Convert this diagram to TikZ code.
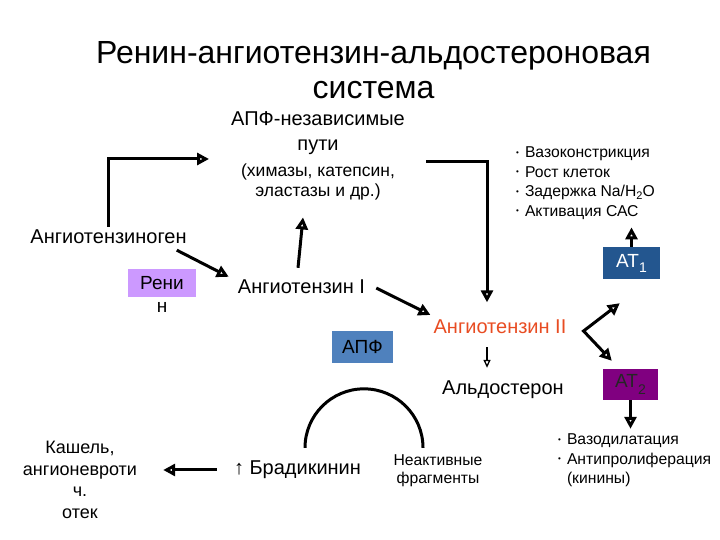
\documentclass[tikz,border=0pt]{standalone}
\usepackage{fontspec}
\setmainfont{Liberation Sans}
\usetikzlibrary{arrows.meta,positioning}
\usepackage{xcolor}
\definecolor{reninlilac}{HTML}{CC99FF}
\definecolor{aceblue}{HTML}{4F81BD}
\definecolor{atnavy}{HTML}{23568F}
\definecolor{atpurple}{HTML}{800080}
\definecolor{angred}{HTML}{E84C22}
\newcommand{\dotitem}{{\fontsize{8}{8}\selectfont\raisebox{2.5pt}{\textbullet}}\hspace{6pt}}

\begin{document}
\begin{tikzpicture}[x=1pt, y=1pt,
      term/.style={
        inner sep=3pt, align=center, font=\fontsize{20}{24}\selectfont
      },
      recbox/.style={
        inner sep=0pt, align=center, font=\fontsize{19}{20}\selectfont
      },
      effects/.style={
        inner sep=0pt, align=left, font=\fontsize{15.7}{19.5}\selectfont
      },
      rel/.style={-{Triangle[open, length=12pt, width=12pt]}, line width=3pt},
      thinrel/.style={-{Triangle[open, length=8pt, width=7pt]}, line width=1.3pt}
    ]
    \useasboundingbox (0,0) rectangle (720,540);

    \node[font=\fontsize{32}{35}\selectfont, align=center] (title) at (373.5,470)
      {Ренин-ангиотензин-альдостероновая\\система};

    % substances
    \node[term, font=\fontsize{20}{25}\selectfont] (indep) at (318,384) {
      АПФ-независимые\\
      пути\\[1pt]
      {\fontsize{17.5}{20}\selectfont (химазы, катепсин,}\\[-5pt]
      {\fontsize{17.5}{20}\selectfont эластазы и др.)}
    };
    \node[term] (agen) at (108.5,303) {Ангиотензиноген};
    \node[term] (ang1) at (301.5,253) {Ангиотензин I};
    \node[term, text=angred] (ang2) at (500,213) {Ангиотензин II};
    \node[term] (aldo) at (503,150) {Альдостерон};
    \node[term] (brady) at (297.5,70) {↑ Брадикинин};
    \node[term, font=\fontsize{18}{21.5}\selectfont] (cough) at (80,60) {
      Кашель,\\ангионевроти\\ч.\\отек
    };
    \node[term, font=\fontsize{15.7}{18}\selectfont] (frag) at (438,69) {
      Неактивные\\фрагменты
    };

    % enzymes and receptors
    \node[recbox, fill=reninlilac, minimum width=68pt, minimum height=28pt]
      (renin) at (162,257) {Рени};
    \node[recbox, anchor=base] (renintail) at ([yshift=-23pt]renin.base) {н};
    \node[recbox, fill=aceblue, minimum width=61pt, minimum height=32pt]
      (ace) at (362.5,193) {АПФ};
    \node[recbox, fill=atnavy, text=white, minimum width=57pt, minimum height=32pt]
      (at1) at (631.5,277) {AT\raisebox{-5pt}{\fontsize{14}{14}\selectfont 1}};
    \node[recbox, fill=atpurple, text=black!85, minimum width=55pt, minimum height=31pt]
      (at2) at (630.5,155.5) {AT\raisebox{-7pt}{\fontsize{14}{14}\selectfont 2}};

    % effects
    \node[effects, anchor=west] (fx1) at (516,357) {
      \dotitem Вазоконстрикция\\
      \dotitem Рост клеток\\
      \dotitem Задержка Na/H\raisebox{-3pt}{\fontsize{11}{11}\selectfont 2}O\\
      \dotitem Активация САС
    };
    \node[effects, anchor=west] (fx2) at (558,79.5) {
      \dotitem Вазодилатация\\
      \dotitem Антипролиферация\\
      \phantom{\dotitem}(кинины)
    };

    \coordinate (fork) at ([xshift=14pt, yshift=-4pt]ang2.east);

    \draw[rel] (agen.north) |- ([xshift=-19pt, yshift=-3pt]indep.west);
    \draw[rel] ([xshift=-13pt, yshift=-3pt]agen.south east) -- ([xshift=-6pt]ang1.north west);
    \draw[rel] ([xshift=-3.5pt, yshift=9pt]ang1.north) -- ([xshift=-15pt, yshift=-14pt]indep.south);
    \draw[rel] ([xshift=18pt, yshift=-6pt]indep.east) -| ([xshift=-13pt, yshift=14.5pt]ang2.north);
    \draw[rel] ([xshift=8pt, yshift=-1pt]ang1.east) -- ([yshift=12pt]ang2.west);
    \draw[line width=3pt, {Triangle[open, length=12pt, width=12pt]}-{Triangle[open, length=12pt, width=12pt]}]
      ([xshift=17pt, yshift=-24pt]at1.south west) -- (fork) -- ([xshift=9pt, yshift=8pt]at2.north west);
    \draw[thinrel] ([xshift=-13pt, yshift=-10pt]ang2.south) -- ([xshift=-16pt, yshift=10pt]aldo.north);
    \draw[rel, shorten >=8pt] (at1.north) -- (at1.north |- fx1.south);
    \draw[rel, shorten >=5pt] (at2.south) -- (at2.south |- fx2.north);
    \draw[rel, shorten <=14pt, shorten >=23pt] (brady.west) -- (brady.west -| cough.east);
    \draw[line width=3pt] ([xshift=7.5pt, yshift=10pt]brady.north) arc[start angle=180, end angle=0, radius=59];
  \end{tikzpicture}
\end{document}
